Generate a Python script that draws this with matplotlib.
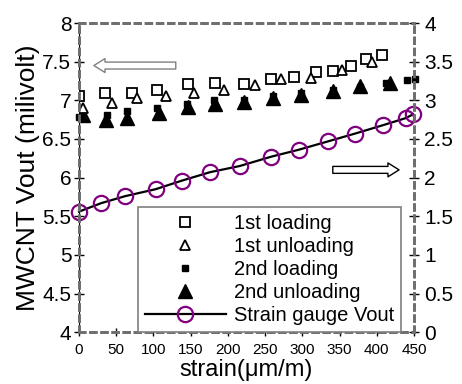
import matplotlib.pyplot as plt
from matplotlib.lines import Line2D

plt.rcParams["font.family"] = ["Liberation Sans", "DejaVu Sans"]

# strain (um/m) and MWCNT Vout (milivolt)
load1_x = [0, 35, 71, 105, 146, 183, 222, 258, 289, 318, 341, 366, 386, 407]
load1_y = [7.05, 7.09, 7.10, 7.13, 7.21, 7.23, 7.21, 7.27, 7.30, 7.36, 7.38, 7.45, 7.53, 7.58]

unload1_x = [6, 45, 78, 117, 154, 195, 237, 272, 312, 354, 393]
unload1_y = [6.90, 6.96, 7.03, 7.05, 7.10, 7.14, 7.20, 7.27, 7.29, 7.39, 7.49]

load2_x = [0, 38, 65, 105, 145, 182, 222, 260, 298, 341, 377, 412, 440, 452]
load2_y = [6.79, 6.81, 6.86, 6.90, 6.95, 7.00, 7.01, 7.05, 7.10, 7.13, 7.17, 7.23, 7.26, 7.28]

unload2_x = [6, 36, 64, 107, 146, 183, 222, 260, 298, 341, 377, 418]
unload2_y = [6.81, 6.74, 6.77, 6.83, 6.91, 6.95, 6.98, 7.03, 7.07, 7.12, 7.18, 7.22]

# strain gauge Vout on the right axis
gauge_x = [0, 30, 62, 103, 138, 176, 216, 258, 295, 335, 371, 409, 439, 449]
gauge_y = [1.56, 1.67, 1.76, 1.85, 1.96, 2.07, 2.15, 2.27, 2.36, 2.47, 2.57, 2.68, 2.77, 2.82]

fig = plt.figure(figsize=(4.62, 3.84), dpi=100)
ax = fig.add_axes([0.171, 0.135, 0.725, 0.805])
ax2 = ax.twinx()

ax.plot(load2_x, load2_y, "s", ms=4.5, color="k", clip_on=False, zorder=3)
ax.plot(unload2_x, unload2_y, "^", ms=10, color="k", zorder=2)
ax.plot(load1_x, load1_y, "s", ms=7.5, mfc="white", mec="k", mew=1.3, zorder=4)
ax.plot(unload1_x, unload1_y, "^", ms=7.5, mfc="white", mec="k", mew=1.3, zorder=4)

ax2.plot(gauge_x, gauge_y, "-o", color="k", lw=1.6, ms=11, mfc="none",
         mec="#800080", mew=1.6, clip_on=False)

ax.set_xlim(0, 450)
ax.set_ylim(4, 8)
ax2.set_ylim(0, 4)
ax.set_xticks(range(0, 451, 50))
ax.set_yticks([4, 4.5, 5, 5.5, 6, 6.5, 7, 7.5, 8])
ax.set_yticklabels(["4", "4.5", "5", "5.5", "6", "6.5", "7", "7.5", "8"])
ax2.set_yticks([0, 0.5, 1, 1.5, 2, 2.5, 3, 3.5, 4])
ax2.set_yticklabels(["0", "0.5", "1", "1.5", "2", "2.5", "3", "3.5", "4"])

ax.tick_params(axis="y", direction="inout", length=7, width=1, labelsize=15, pad=2)
ax.tick_params(axis="x", direction="inout", length=6, width=1, labelsize=11, pad=5)
ax2.tick_params(axis="y", direction="inout", length=7, width=1, labelsize=15, pad=4)

for a in (ax, ax2):
    for s in a.spines.values():
        s.set_color("#6f6f6f")
        s.set_linewidth(2)
        s.set_linestyle((0, (2, 2)))
ax.axvline(0, color="k", lw=0.9, zorder=1)

ax.set_ylabel("MWCNT Vout (milivolt)", fontsize=19, labelpad=2)
ax.set_xlabel("strain(\u03bcm/m)", fontsize=17, labelpad=1)

# direction arrows
ax.annotate("", xy=(20, 7.45), xytext=(130, 7.45),
            arrowprops=dict(arrowstyle="simple,head_length=0.8,head_width=1.0,tail_width=0.5",
                            fc="white", ec="#808080", lw=1, mutation_scale=10,
                            shrinkA=0, shrinkB=0))
ax2.annotate("", xy=(430, 2.10), xytext=(341, 2.10),
             arrowprops=dict(arrowstyle="simple,head_length=0.8,head_width=1.0,tail_width=0.5",
                             fc="white", ec="k", lw=1, mutation_scale=10,
                             shrinkA=0, shrinkB=0))

handles = [
    Line2D([], [], ls="none", marker="s", ms=7.5, mfc="white", mec="k", mew=1.3),
    Line2D([], [], ls="none", marker="^", ms=7.5, mfc="white", mec="k", mew=1.3),
    Line2D([], [], ls="none", marker="s", ms=4.5, color="k"),
    Line2D([], [], ls="none", marker="^", ms=10, color="k"),
    Line2D([], [], color="k", lw=1.6, marker="o", ms=11, mfc="none", mec="#800080", mew=1.6),
]
labels = ["1st loading", "1st unloading", "2nd loading", "2nd unloading", "Strain gauge Vout"]
leg = ax2.legend(handles, labels, loc="lower right", bbox_to_anchor=(0.961, 0.0),
                 borderaxespad=0, fontsize=14.5, handlelength=4.0, handletextpad=0.4,
                 labelspacing=0.2, borderpad=0.35, fancybox=False, framealpha=1)
leg.get_frame().set_edgecolor("#7f7f7f")
leg.get_frame().set_linewidth(1.2)

fig.savefig("out.png", dpi=100)
